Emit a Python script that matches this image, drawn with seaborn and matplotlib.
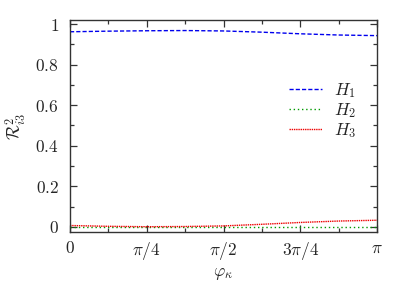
import numpy as np
import pandas as pd
import matplotlib
matplotlib.use("Agg")
import matplotlib.pyplot as plt
import seaborn as sns
from matplotlib.ticker import MultipleLocator, FixedLocator

sns.set_theme(style="ticks")
plt.rcParams['font.family'] = ['DejaVu Serif']
plt.rcParams['mathtext.fontset'] = 'cm'

# data
phi = [0, np.pi/8, np.pi/4, 3*np.pi/8, np.pi/2, 5*np.pi/8, 3*np.pi/4, 7*np.pi/8, np.pi]
H1 = [0.962, 0.965, 0.967, 0.968, 0.966, 0.960, 0.952, 0.946, 0.943]
H2 = [0.001, 0.001, 0.001, 0.001, 0.001, 0.001, 0.001, 0.001, 0.001]
H3 = [0.007, 0.003, 0.001, 0.002, 0.005, 0.013, 0.022, 0.029, 0.033]
labels = [r'$H_1$', r'$H_2$', r'$H_3$']
xtick_labels = [r'$0$', r'$\pi/4$', r'$\pi/2$', r'$3\pi/4$', r'$\pi$']
ytick_labels = [r'$0$', r'$0.2$', r'$0.4$', r'$0.6$', r'$0.8$', r'$1$']

df = pd.DataFrame({'phi': phi * 3,
                   'R': H1 + H2 + H3,
                   'H': [labels[0]] * len(phi) + [labels[1]] * len(phi) + [labels[2]] * len(phi)})

fig = plt.figure(figsize=(4.07, 2.85), dpi=100)
ax = fig.add_axes([70/407, 1 - 232/285, 307/407, 212/285])

colors = ['#0000ee', '#009a00', '#ee0000']
styles = [(0, (3, 1.5)), (0, (1, 2)), (0, (1, 0.6))]
for lab, c, ls in zip(labels, colors, styles):
    sub = df[df['H'] == lab]
    sns.lineplot(data=sub, x='phi', y='R', ax=ax, color=c, linestyle=ls, lw=1.0, label=lab)

ax.set_xlim(0, np.pi)
ax.set_ylim(-0.025, 1.02)
ax.xaxis.set_major_locator(FixedLocator([0, np.pi/4, np.pi/2, 3*np.pi/4, np.pi]))
ax.set_xticklabels(xtick_labels)
ax.xaxis.set_minor_locator(FixedLocator([np.pi/8, 3*np.pi/8, 5*np.pi/8, 7*np.pi/8]))
ax.yaxis.set_major_locator(FixedLocator([0, 0.2, 0.4, 0.6, 0.8, 1.0]))
ax.set_yticklabels(ytick_labels)
ax.yaxis.set_minor_locator(MultipleLocator(0.1))
ax.tick_params(which='both', direction='in', top=True, right=True, color='#333333', labelsize=12.5)
ax.tick_params(which='major', length=5, width=0.9)
ax.tick_params(which='minor', length=3, width=0.9)
ax.tick_params(axis='x', pad=6)
ax.tick_params(axis='y', pad=8)
for s in ax.spines.values():
    s.set_color('#333333')
    s.set_linewidth(1.0)

ax.set_xlabel(r'$\varphi_\kappa$', fontsize=12.5, labelpad=2)
ax.set_ylabel(r'$\mathcal{R}^2_{i3}$', fontsize=12.5, labelpad=5)

leg = ax.legend(loc='upper left', bbox_to_anchor=(0.69, 0.745), frameon=False,
                fontsize=12.5, handlelength=1.9, handletextpad=0.7, labelspacing=0.05,
                borderaxespad=0)

fig.savefig('out.png', dpi=100)
